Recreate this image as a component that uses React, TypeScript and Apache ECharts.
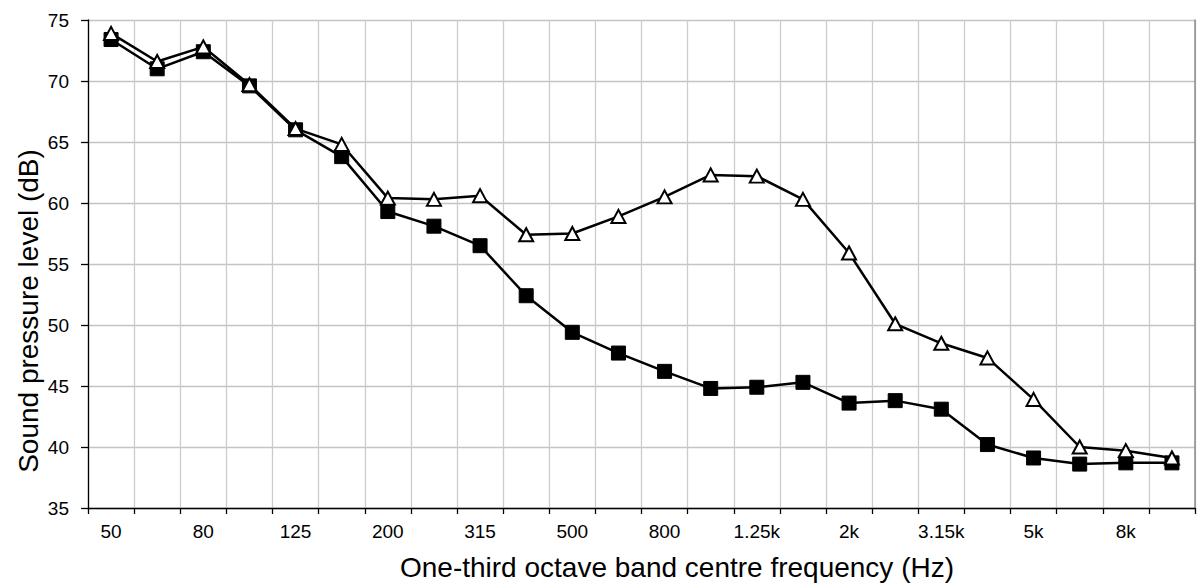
import React, { useEffect, useRef } from "react";
import * as echarts from "echarts";

const categories = ["50", "63", "80", "100", "125", "160", "200", "250", "315", "400", "500", "630", "800", "1k", "1.25k", "1.6k", "2k", "2.5k", "3.15k", "4k", "5k", "6.3k", "8k", "10k"];
const squareSeries = [73.4, 71.0, 72.4, 69.6, 66.0, 63.8, 59.3, 58.1, 56.5, 52.4, 49.4, 47.7, 46.2, 44.8, 44.9, 45.3, 43.6, 43.8, 43.1, 40.2, 39.1, 38.6, 38.7, 38.7];
const triangleSeries = [73.9, 71.6, 72.8, 69.7, 66.1, 64.8, 60.4, 60.3, 60.6, 57.4, 57.5, 58.9, 60.5, 62.3, 62.2, 60.3, 55.9, 50.1, 48.5, 47.3, 43.9, 40.0, 39.7, 39.1];
const yTitle = "Sound pressure level (dB)";
const xTitle = "One-third octave band centre frequency (Hz)";

const FONT = "'Liberation Sans', Arial, sans-serif";

export default function App() {
  const ref = useRef<HTMLDivElement>(null);
  useEffect(() => {
    if (!ref.current) return;
    const chart = echarts.init(ref.current, undefined, { renderer: "svg" });
    chart.setOption({
      animation: false,
      backgroundColor: "#ffffff",
      textStyle: { fontFamily: FONT },
      grid: { left: 88, right: 3, top: 20, bottom: 80, containLabel: false },
      xAxis: {
        type: "category",
        data: categories,
        boundaryGap: true,
        axisLine: { show: true, lineStyle: { color: "#000", width: 1.3 } },
        axisTick: { show: true, interval: 0, length: 6, inside: false, lineStyle: { color: "#000", width: 1.3 } },
        axisLabel: { interval: 1, color: "#000", fontSize: 19, fontFamily: FONT, margin: 14 },
        splitLine: { show: true, interval: 0, lineStyle: { color: "#cccccc", width: 1.3 } },
      },
      yAxis: [
        {
          type: "value",
          min: 35,
          max: 75,
          interval: 5,
          axisLine: { show: true, lineStyle: { color: "#000", width: 1.3 } },
          axisTick: { show: true, length: 7, lineStyle: { color: "#000", width: 1.3 } },
          axisLabel: { color: "#000", fontSize: 19, fontFamily: FONT, margin: 19 },
          splitLine: { show: true, lineStyle: { color: "#c4c4c4", width: 1.3 } },
        },
        {
          type: "value",
          position: "right",
          min: 35,
          max: 75,
          interval: 5,
          axisLine: { show: true, lineStyle: { color: "#8c8c8c", width: 1.5 } },
          axisTick: { show: false },
          axisLabel: { show: false },
          splitLine: { show: false },
        },
      ],
      graphic: [
        {
          type: "text",
          x: 28,
          y: 311,
          rotation: Math.PI / 2,
          style: { text: yTitle, font: `28px ${FONT}`, fill: "#000", textAlign: "center", textVerticalAlign: "middle" },
        },
        {
          type: "text",
          x: 677,
          y: 567,
          style: { text: xTitle, font: `28px ${FONT}`, fill: "#000", textAlign: "center", textVerticalAlign: "middle" },
        },
      ],
      series: [
        {
          type: "line",
          data: squareSeries,
          symbol: "rect",
          symbolSize: 14,
          lineStyle: { color: "#000", width: 2.5 },
          itemStyle: { color: "#000", borderColor: "#000", borderWidth: 1 },
          z: 3,
        },
        {
          type: "line",
          data: triangleSeries,
          symbol: "triangle",
          symbolSize: [14, 13],
          lineStyle: { color: "#000", width: 2.5 },
          itemStyle: { color: "#fff", borderColor: "#000", borderWidth: 2 },
          z: 4,
        },
      ],
    });
    return () => chart.dispose();
  }, []);
  return <div ref={ref} style={{ position: "fixed", left: 0, top: 0, width: 1198, height: 588 }} />;
}
